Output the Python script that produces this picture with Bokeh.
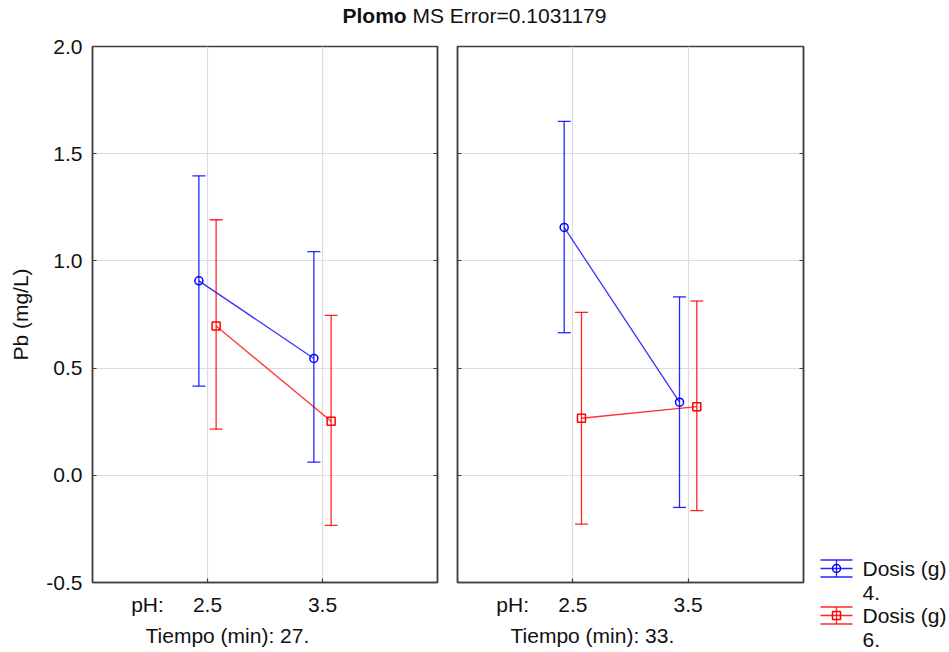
from bokeh.plotting import figure
from bokeh.models import (Range1d, FixedTicker, NumeralTickFormatter, LinearAxis,
                          Whisker, TeeHead, ColumnDataSource, Title, Div)
from bokeh.layouts import row, column
from bokeh.embed import file_html
from bokeh.resources import INLINE
from bokeh.core.properties import value

# ---------------- data ----------------
ph_levels = ["2.5", "3.5"]
tiempo_levels = ["27.", "33."]
dosis_levels = ["4.", "6."]

mean_d4_t27 = [0.907, 0.545]
low_d4_t27 = [0.416, 0.061]
up_d4_t27 = [1.397, 1.043]
mean_d6_t27 = [0.696, 0.252]
low_d6_t27 = [0.215, -0.234]
up_d6_t27 = [1.192, 0.746]

mean_d4_t33 = [1.156, 0.341]
low_d4_t33 = [0.665, -0.150]
up_d4_t33 = [1.651, 0.832]
mean_d6_t33 = [0.266, 0.320]
low_d6_t33 = [-0.228, -0.165]
up_d6_t33 = [0.760, 0.813]

y_ticks = [-0.5, 0.0, 0.5, 1.0, 1.5, 2.0]

series_colors = ["#0000ff", "#ff0000"]
series_markers = ["circle", "square"]
dodge = [-0.075, 0.075]

FONT = "Liberation Sans"
FS = "21px"
TXT = "#111111"
FRAME = "#404040"
GRID = "#dcdcdc"


def style_axis(ax, labels=True, ticks=None):
    ax.axis_line_color = FRAME
    ax.axis_line_width = 1.5
    ax.major_tick_line_color = FRAME
    ax.major_tick_line_width = 1.2
    ax.minor_tick_line_color = FRAME
    ax.minor_tick_line_width = 1.2
    ax.major_tick_in = 4
    ax.major_tick_out = 0
    ax.minor_tick_in = 0
    ax.minor_tick_out = 0
    ax.major_label_text_font = FONT
    ax.major_label_text_color = TXT
    ax.major_label_text_font_size = FS
    if labels:
        ax.major_label_standoff = 10
    else:
        ax.major_label_overrides = {t: "" for t in ticks}
        ax.major_label_standoff = 0


def make_panel(tiempo, means, lows, ups, first):
    p = figure(frame_width=345 if first else 346, frame_height=536,
               x_range=Range1d(0, 3), y_range=Range1d(-0.5, 2.0),
               output_backend="svg", toolbar_location=None, title_location=None,
               min_border_top=14, min_border_bottom=70,
               min_border_left=92 if first else 10,
               min_border_right=10 if first else 2,
               background_fill_color="white", border_fill_color="white")
    p.outline_line_color = FRAME
    p.outline_line_width = 1.5

    # y axis
    p.yaxis.ticker = FixedTicker(ticks=y_ticks)
    p.yaxis.formatter = NumeralTickFormatter(format="0.0")
    style_axis(p.yaxis[0], labels=first, ticks=y_ticks)
    if first:
        p.yaxis.axis_label = "Pb (mg/L)"
        p.yaxis.axis_label_text_font = FONT
        p.yaxis.axis_label_text_font_size = FS
        p.yaxis.axis_label_text_font_style = "normal"
        p.yaxis.axis_label_text_color = TXT
        p.yaxis.axis_label_standoff = 11

    # x axis: factor labels plus the "pH:" caption; inward ticks on the factor positions
    xpos = [i + 1 for i in range(len(ph_levels))]
    ph_caption_x = 0.478
    p.xaxis.ticker = FixedTicker(ticks=[ph_caption_x] + xpos, minor_ticks=xpos)
    over = {ph_caption_x: "pH:"}
    over.update({x: lab for x, lab in zip(xpos, ph_levels)})
    p.xaxis.major_label_overrides = over
    style_axis(p.xaxis[0], labels=True)
    p.xaxis.major_tick_in = 0
    p.xaxis.minor_tick_in = 4
    p.xaxis.major_label_standoff = 10

    ry = LinearAxis(ticker=FixedTicker(ticks=y_ticks))
    style_axis(ry, labels=False, ticks=y_ticks)
    p.add_layout(ry, "right")

    p.add_layout(Title(text="Tiempo (min): " + tiempo, align="left", offset=53,
                       standoff=6, text_font=FONT, text_font_size=FS,
                       text_font_style="normal", text_color=TXT), "below")

    p.xgrid.ticker = FixedTicker(ticks=xpos)
    p.ygrid.ticker = FixedTicker(ticks=y_ticks)
    p.xgrid.grid_line_color = GRID
    p.ygrid.grid_line_color = GRID
    p.xgrid.grid_line_width = 1.2
    p.ygrid.grid_line_width = 1.2

    for k in range(len(dosis_levels)):
        xs = [x + dodge[k] for x in xpos]
        src = ColumnDataSource(dict(x=xs, y=means[k], lo=lows[k], hi=ups[k]))
        col = series_colors[k]
        w = Whisker(source=src, base="x", lower="lo", upper="hi",
                    dimension="height", line_color=col, line_width=1.3,
                    line_alpha=0.85, level="glyph",
                    upper_head=TeeHead(size=13, line_color=col, line_width=1.3, line_alpha=0.85),
                    lower_head=TeeHead(size=13, line_color=col, line_width=1.3, line_alpha=0.85))
        p.add_layout(w)
        p.line("x", "y", source=src, line_color=col, line_width=1.3, line_alpha=0.8)
        p.scatter("x", "y", source=src, marker=series_markers[k], size=8,
                  line_color=col, line_width=1.5, fill_alpha=0)
    return p


p1 = make_panel(tiempo_levels[0], [mean_d4_t27, mean_d6_t27],
                [low_d4_t27, low_d6_t27], [up_d4_t27, up_d6_t27], True)
p2 = make_panel(tiempo_levels[1], [mean_d4_t33, mean_d6_t33],
                [low_d4_t33, low_d6_t33], [up_d4_t33, up_d6_t33], False)

# ---------------- legend (own small panel, pixel-sized ranges) ----------------
# its frame top lines up with the panels' frame tops
LW, LH = 144, 606
lg = figure(frame_width=LW, frame_height=LH, x_range=Range1d(0, LW), y_range=Range1d(LH, 0),
            x_axis_location=None, y_axis_location=None, toolbar_location=None,
            title_location=None, output_backend="svg",
            min_border_top=14, min_border_bottom=0, min_border_left=0, min_border_right=0,
            outline_line_color=None,
            background_fill_color="white", border_fill_color="white")
lg.grid.visible = False
item_y = [522, 569]          # icon centres (px from frame top)
icon_x0, icon_x1, icon_xc = 15, 47, 31
cap = 8.5
for k in range(len(dosis_levels)):
    col = series_colors[k]
    yc = item_y[k]
    lg.segment(x0=[icon_x0, icon_x0, icon_x0, icon_xc], x1=[icon_x1, icon_x1, icon_x1, icon_xc],
               y0=[yc - cap, yc, yc + cap, yc - cap], y1=[yc - cap, yc, yc + cap, yc + cap],
               line_color=col, line_width=1.3, line_alpha=0.85)
    lg.scatter(x=[icon_xc], y=[yc], marker=series_markers[k], size=8, line_color=col,
               line_width=1.5, fill_alpha=0)
    lg.text(x=[57, 57], y=[yc, yc + 24], text=["Dosis (g)", dosis_levels[k]],
            text_font=value(FONT), text_font_size=FS, text_color=TXT,
            text_baseline="middle", text_align="left")

title = Div(text="<b>Plomo</b> MS Error=0.1031179", width=949, height=32, margin=0,
            styles={"font-family": FONT, "font-size": FS, "color": TXT,
                    "text-align": "center", "line-height": "32px"})

layout = column(title, row(p1, p2, lg, spacing=0), spacing=0)

with open("out.html", "w") as f:
    f.write(file_html(layout, INLINE))
